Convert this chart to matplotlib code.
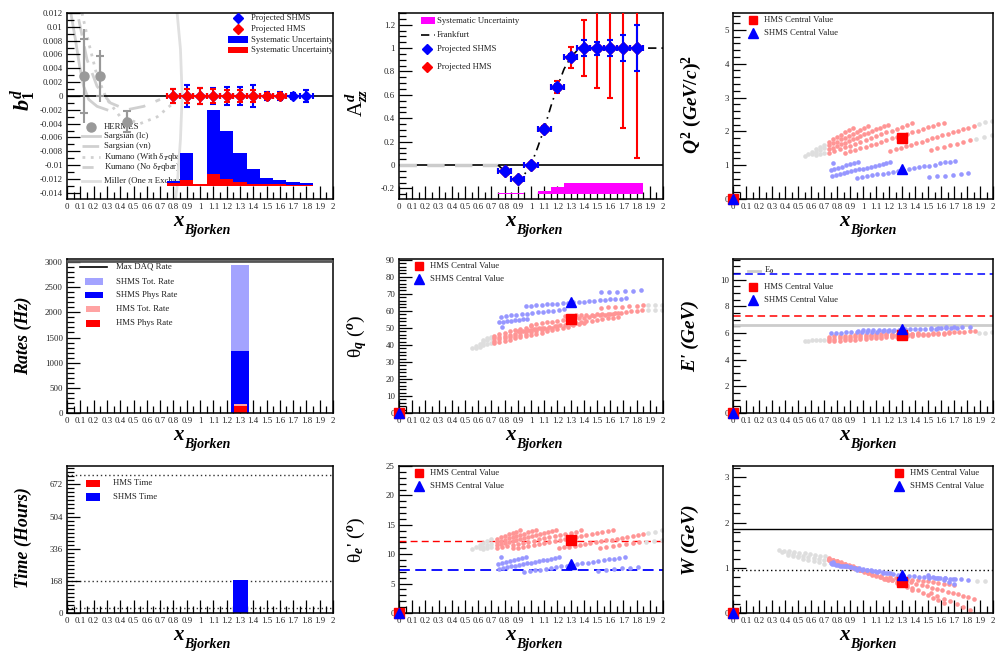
import numpy as np
import matplotlib
matplotlib.use("Agg")
from matplotlib import pyplot as plt
from matplotlib.patches import Rectangle
from matplotlib.ticker import MultipleLocator, FuncFormatter

plt.rcParams["font.family"] = ["Liberation Serif", "DejaVu Serif"]
plt.rcParams["mathtext.fontset"] = "custom"
plt.rcParams["mathtext.rm"] = "Liberation Serif:bold"
plt.rcParams["mathtext.it"] = "Liberation Serif:italic:bold"
plt.rcParams["mathtext.bf"] = "Liberation Serif:bold"

# ---------------- b1 panel data ----------------
HERMES_X = [0.128, 0.248, 0.452]
HERMES_Y = [0.0029, 0.0029, -0.0037]
HERMES_STAT = [0.0054, 0.0029, 0.0015]
HERMES_TOT = [0.0068, 0.0037, 0.0017]

SARG_LC_X = [0.03, 0.063, 0.095, 0.125, 0.163, 0.226, 0.30]
SARG_LC_Y = [0.0119, 0.0082, 0.0043, 0.0014, -0.0005, -0.0015, -0.002]
SARG_VN_X = [0.088, 0.15, 0.226, 0.326, 0.45, 0.577, 0.70]
SARG_VN_Y = [0.0111, 0.0053, 0.0014, -0.001, -0.002, -0.0015, -0.0005]
KUM_WITH_X = [0.113, 0.163, 0.226, 0.30, 0.40, 0.55, 0.68, 0.80]
KUM_WITH_Y = [0.012, 0.0077, 0.0029, -0.0005, -0.003, -0.004, -0.003, -0.001]
MILLER_X = [0.828, 0.853, 0.866, 0.853, 0.828, 0.816]
MILLER_Y = [0.012, 0.0068, 0.0, -0.0063, -0.0131, -0.0149]

B1_SHMS_X = [0.8, 0.9, 1.0, 1.1, 1.2, 1.3, 1.4, 1.5, 1.6, 1.7, 1.8]
B1_SHMS_ERR = [0.0010, 0.0016, 0.0012, 0.0012, 0.0013, 0.0013, 0.0016, 0.0006, 0.0006, 0.0005, 0.0009]
B1_HMS_X = [0.8, 0.9, 1.0, 1.1, 1.2, 1.3, 1.4, 1.5, 1.6]
B1_HMS_ERR = [0.0010, 0.0010, 0.0011, 0.0010, 0.0009, 0.0008, 0.0008, 0.0005, 0.0004]

SYS_X = [0.8, 0.9, 1.0, 1.1, 1.2, 1.3, 1.4, 1.5, 1.6, 1.7, 1.8]
B1_SYS_BASE = -0.013
B1_SYS_SHMS = [-0.0123, -0.0082, -0.0128, -0.0021, -0.0050, -0.0082, -0.0106, -0.0118, -0.0122, -0.0125, -0.0126]
B1_SYS_HMS = [-0.0126, -0.0122, -0.0128, -0.0113, -0.0120, -0.0125, -0.0127, -0.0128, -0.0128, -0.0129, -0.0129]

# ---------------- Azz panel data ----------------
AZZ_X = [0.8, 0.9, 1.0, 1.1, 1.2, 1.3, 1.4, 1.5, 1.6, 1.7, 1.8]
AZZ_Y = [-0.05, -0.12, 0.0, 0.31, 0.67, 0.92, 1.0, 1.0, 1.0, 1.0, 1.0]
AZZ_SHMS_ERR = [0.015, 0.015, 0.015, 0.015, 0.025, 0.03, 0.065, 0.055, 0.065, 0.11, 0.2]
AZZ_HMS_ERR = [0.02, 0.02, 0.02, 0.02, 0.05, 0.09, 0.24, 0.34, 0.43, 0.68, 0.94]
FRANK_X = [0.75, 0.8, 0.85, 0.9, 0.95, 1.0, 1.05, 1.1, 1.15, 1.2, 1.25, 1.3, 1.35, 1.4, 2.0]
FRANK_Y = [0.0, -0.05, -0.1, -0.12, -0.08, 0.0, 0.15, 0.31, 0.5, 0.67, 0.82, 0.92, 0.98, 1.0, 1.0]
FRANK_LOW_X = [0.0, 0.75]
FRANK_LOW_Y = [0.0, 0.0]
AZZ_SYS_BASE = -0.25
AZZ_SYS_TOP = [-0.240, -0.237, -0.25, -0.22, -0.186, -0.157, -0.149, -0.149, -0.149, -0.149, -0.149]

# ---------------- kinematic bins (shared x for Q2, theta_e, W) ----------------
KIN_HMS_X = [
    0.74, 0.77, 0.80, 0.83, 0.86, 0.89, 0.92,
    0.74, 0.77, 0.80, 0.83, 0.86, 0.89, 0.92, 0.95, 0.98, 1.01, 1.04,
    0.74, 0.77, 0.80, 0.83, 0.86, 0.89, 0.92, 0.95, 0.98, 1.01, 1.04, 1.07, 1.10, 1.13, 1.16, 1.19,
    0.74, 0.78, 0.82, 0.86, 0.90, 0.94, 0.98, 1.02, 1.06, 1.10, 1.14, 1.18, 1.22, 1.26, 1.30, 1.34, 1.38,
    0.86, 0.90, 0.94, 0.98, 1.02, 1.06, 1.10, 1.14, 1.18, 1.22, 1.26, 1.30, 1.34, 1.38, 1.42, 1.46, 1.50, 1.54, 1.58, 1.62,
    1.21, 1.25, 1.29, 1.33, 1.37, 1.41, 1.45, 1.49, 1.53, 1.57, 1.61, 1.65, 1.69, 1.73, 1.77, 1.81, 1.85,
    1.52, 1.57, 1.62, 1.67, 1.72, 1.77, 1.82,
]
KIN_SHMS_X = [
    0.77,
    0.75, 0.78, 0.81, 0.84, 0.87, 0.90, 0.93, 0.96,
    0.76, 0.79, 0.82, 0.85, 0.88, 0.91, 0.94, 0.97, 1.00, 1.03, 1.06, 1.09, 1.12, 1.15, 1.18, 1.21,
    0.95, 0.99, 1.03, 1.07, 1.11, 1.15, 1.19, 1.23, 1.27, 1.31, 1.35, 1.39, 1.43, 1.47, 1.51, 1.55, 1.59, 1.63, 1.67, 1.71,
    1.51, 1.57, 1.63, 1.69, 1.75, 1.81,
]

Q2_HMS_Y = [
    1.70, 1.77, 1.83, 1.90, 1.97, 2.03, 2.10,
    1.59, 1.65, 1.70, 1.76, 1.81, 1.87, 1.93, 1.98, 2.04, 2.09, 2.15,
    1.47, 1.52, 1.57, 1.62, 1.66, 1.71, 1.76, 1.81, 1.86, 1.91, 1.96, 2.01, 2.06, 2.10, 2.15, 2.20,
    1.36, 1.42, 1.47, 1.53, 1.58, 1.64, 1.69, 1.75, 1.80, 1.86, 1.91, 1.97, 2.02, 2.08, 2.13, 2.19, 2.24,
    1.36, 1.41, 1.45, 1.50, 1.55, 1.60, 1.64, 1.69, 1.74, 1.79, 1.83, 1.88, 1.93, 1.98, 2.02, 2.07, 2.12, 2.17, 2.21, 2.26,
    1.42, 1.47, 1.51, 1.56, 1.61, 1.65, 1.70, 1.74, 1.79, 1.84, 1.88, 1.93, 1.98, 2.02, 2.07, 2.11, 2.16,
    1.45, 1.50, 1.55, 1.60, 1.64, 1.69, 1.74,
]
Q2_SHMS_Y = [
    1.06,
    0.86, 0.89, 0.93, 0.96, 1.00, 1.03, 1.07, 1.10,
    0.69, 0.72, 0.74, 0.77, 0.80, 0.82, 0.85, 0.88, 0.90, 0.93, 0.96, 0.98, 1.01, 1.04, 1.06, 1.09,
    0.62, 0.65, 0.67, 0.70, 0.73, 0.75, 0.78, 0.81, 0.83, 0.86, 0.89, 0.91, 0.94, 0.97, 0.99, 1.02, 1.05, 1.08, 1.10, 1.13,
    0.64, 0.67, 0.69, 0.72, 0.74, 0.77,
]
Q2_GRAY_X = [0.55, 0.58, 0.61, 0.64, 0.67, 0.70, 0.61, 0.64, 0.67, 0.70, 0.64, 0.67, 0.70,
             1.89, 1.94, 1.99, 1.87, 1.93, 1.99]
Q2_GRAY_Y = [1.27, 1.34, 1.40, 1.47, 1.53, 1.60, 1.33, 1.38, 1.44, 1.50, 1.30, 1.33, 1.37,
             2.21, 2.27, 2.32, 1.78, 1.83, 1.88]

THE_HMS_Y = [
    12.67, 12.91, 13.15, 13.38, 13.62, 13.86, 14.10,
    12.1, 12.3, 12.5, 12.7, 12.9, 13.1, 13.3, 13.5, 13.7, 13.9, 14.1,
    11.53, 11.70, 11.87, 12.04, 12.21, 12.39, 12.56, 12.73, 12.90, 13.07, 13.24, 13.41, 13.59, 13.76, 13.93, 14.10,
    10.97, 11.16, 11.36, 11.55, 11.74, 11.93, 12.13, 12.32, 12.51, 12.70, 12.90, 13.09, 13.28, 13.47, 13.67, 13.86, 14.05,
    10.97, 11.13, 11.30, 11.46, 11.63, 11.79, 11.96, 12.12, 12.29, 12.45, 12.62, 12.78, 12.95, 13.11, 13.28, 13.44, 13.61, 13.77, 13.94, 14.10,
    11.00, 11.15, 11.30, 11.45, 11.60, 11.75, 11.90, 12.05, 12.20, 12.35, 12.50, 12.65, 12.80, 12.95, 13.10, 13.25, 13.40,
    10.97, 11.14, 11.31, 11.49, 11.66, 11.83, 12.00,
]
THE_SHMS_Y = [
    9.55,
    8.41, 8.56, 8.71, 8.86, 9.00, 9.15, 9.30, 9.45,
    7.56, 7.69, 7.81, 7.94, 8.06, 8.19, 8.32, 8.44, 8.57, 8.70, 8.82, 8.95, 9.07, 9.20, 9.32, 9.45,
    6.99, 7.12, 7.25, 7.39, 7.52, 7.65, 7.78, 7.91, 8.05, 8.18, 8.31, 8.44, 8.57, 8.71, 8.84, 8.97, 9.10, 9.23, 9.37, 9.50,
    7.16, 7.30, 7.43, 7.57, 7.70, 7.84,
]
THE_GRAY_X = [0.55, 0.58, 0.61, 0.64, 0.67, 0.70, 0.61, 0.64, 0.67, 0.70, 0.64, 0.67, 0.70,
              1.89, 1.94, 1.99, 1.87, 1.93, 1.99]
THE_GRAY_Y = [10.90, 11.23, 11.57, 11.90, 12.23, 12.57, 11.0, 11.25, 11.5, 11.75, 10.9, 11.05, 11.2,
              13.55, 13.80, 14.05, 12.15, 12.30, 12.45]

W_HMS_Y = [
    1.22, 1.18, 1.15, 1.12, 1.09, 1.06, 1.03,
    1.20, 1.17, 1.14, 1.11, 1.08, 1.05, 1.02, 0.99, 0.95, 0.92, 0.89,
    1.18, 1.15, 1.12, 1.09, 1.06, 1.03, 1.00, 0.97, 0.94, 0.91, 0.88, 0.85, 0.82, 0.79, 0.76, 0.73,
    1.17, 1.13, 1.10, 1.06, 1.03, 0.99, 0.96, 0.92, 0.88, 0.84, 0.80, 0.76, 0.72, 0.67, 0.62, 0.57, 0.51,
    1.05, 1.02, 0.99, 0.96, 0.92, 0.88, 0.85, 0.81, 0.77, 0.73, 0.69, 0.66, 0.61, 0.56, 0.50, 0.45, 0.39, 0.34, 0.28, 0.22,
    0.80, 0.77, 0.74, 0.71, 0.68, 0.65, 0.62, 0.59, 0.56, 0.53, 0.50, 0.47, 0.44, 0.41, 0.38, 0.35, 0.32,
    0.44, 0.38, 0.32, 0.26, 0.20, 0.13, 0.06,
]
W_HMS_EXTRA_X = [1.34, 1.38, 1.42, 1.46, 1.50, 1.54, 1.58, 1.62, 1.66, 1.70]
W_HMS_EXTRA_Y = [0.76, 0.74, 0.73, 0.71, 0.70, 0.68, 0.67, 0.65, 0.64, 0.62]
W_SHMS_Y = [
    1.12,
    1.11, 1.09, 1.07, 1.05, 1.04, 1.02, 1.00, 0.98,
    1.08, 1.07, 1.05, 1.04, 1.03, 1.01, 1.00, 0.99, 0.97, 0.96, 0.95, 0.93, 0.92, 0.91, 0.89, 0.88,
    0.96, 0.95, 0.94, 0.92, 0.91, 0.89, 0.88, 0.86, 0.85, 0.84, 0.82, 0.81, 0.80, 0.79, 0.78, 0.78, 0.77, 0.77, 0.76, 0.76,
    0.79, 0.78, 0.77, 0.76, 0.75, 0.74,
]
W_SHMS_EXTRA_X = [1.50, 1.54, 1.58, 1.62, 1.66, 1.70]
W_SHMS_EXTRA_Y = [0.84, 0.80, 0.77, 0.73, 0.69, 0.65]
W_GRAY_X = [0.35, 0.39, 0.43, 0.47, 0.51, 0.55, 0.59, 0.63, 0.67, 0.71,
            0.38, 0.42, 0.46, 0.50, 0.54, 0.58, 0.62, 0.66, 0.70,
            0.42, 0.46, 0.50, 0.54, 0.58, 0.62, 0.66, 0.70,
            1.88, 1.94]
W_GRAY_Y = [1.40, 1.38, 1.37, 1.35, 1.33, 1.32, 1.30, 1.28, 1.27, 1.25,
            1.34, 1.32, 1.30, 1.27, 1.25, 1.23, 1.21, 1.19, 1.17,
            1.28, 1.26, 1.23, 1.20, 1.17, 1.14, 1.12, 1.09,
            0.71, 0.70]

# ---------------- theta_q panel ----------------
TQ_HMS_X = [
    0.72, 0.76, 0.80, 0.84, 0.88, 0.92, 0.96, 1.00,
    0.72, 0.76, 0.80, 0.84, 0.88, 0.92, 0.96, 1.00, 1.04, 1.08,
    0.72, 0.76, 0.80, 0.84, 0.88, 0.92, 0.96, 1.00, 1.04, 1.08, 1.12, 1.16, 1.20,
    0.72, 0.76, 0.80, 0.84, 0.88, 0.92, 0.96, 1.00, 1.04, 1.08, 1.12, 1.16, 1.20, 1.24, 1.28, 1.32, 1.36, 1.40,
    0.90, 0.94, 0.98, 1.02, 1.06, 1.10, 1.14, 1.18, 1.22, 1.26, 1.30, 1.34, 1.38, 1.42, 1.46, 1.50, 1.54, 1.58, 1.62, 1.66,
    1.00, 1.04, 1.08, 1.12, 1.16, 1.20, 1.24, 1.28, 1.32, 1.36, 1.40, 1.44, 1.48, 1.52, 1.56, 1.60, 1.64, 1.68, 1.72, 1.76, 1.80, 1.84,
    1.26, 1.30, 1.34, 1.38, 1.42, 1.46, 1.50, 1.54, 1.58, 1.62, 1.66,
    1.53, 1.58, 1.64, 1.69, 1.74, 1.80, 1.85,
]
TQ_HMS_Y = [
    45.5, 46.3, 47.1, 47.9, 48.6, 49.4, 50.2, 51.0,
    44.0, 44.7, 45.4, 46.1, 46.7, 47.4, 48.1, 48.8, 49.5, 50.2,
    42.5, 43.2, 43.9, 44.6, 45.3, 46.0, 46.7, 47.4, 48.1, 48.8, 49.5, 50.2, 50.9,
    41.0, 41.7, 42.4, 43.1, 43.8, 44.5, 45.2, 45.9, 46.6, 47.3, 48.0, 48.7, 49.4, 50.1, 50.8, 51.5, 52.2, 52.9,
    48.0, 48.4, 48.9, 49.3, 49.8, 50.2, 50.7, 51.1, 51.6, 52.0, 52.5, 52.9, 53.4, 53.8, 54.3, 54.7, 55.2, 55.6, 56.1, 56.5,
    52.0, 52.4, 52.8, 53.2, 53.6, 54.0, 54.4, 54.8, 55.2, 55.6, 56.1, 56.5, 56.9, 57.3, 57.7, 58.1, 58.5, 58.9, 59.3, 59.7, 60.1, 60.5,
    57.0, 57.2, 57.3, 57.5, 57.6, 57.8, 57.9, 58.1, 58.2, 58.4, 58.5,
    61.8, 62.0, 62.3, 62.5, 62.8, 63.0, 63.3,
]
TQ_SHMS_X = [
    0.78,
    0.77, 0.81, 0.85, 0.89, 0.93, 0.97, 1.01, 1.05, 1.09, 1.13, 1.17, 1.21, 1.25,
    0.76, 0.79, 0.82, 0.85, 0.88, 0.91, 0.94, 0.97,
    0.96, 1.00, 1.04, 1.08, 1.12, 1.16, 1.20, 1.24, 1.28, 1.32, 1.36, 1.40, 1.44, 1.48, 1.52, 1.56, 1.60, 1.64, 1.68, 1.72,
    1.53, 1.59, 1.65, 1.71, 1.77, 1.83,
]
TQ_SHMS_Y = [
    50.3,
    56.6, 57.0, 57.3, 57.7, 58.0, 58.4, 58.8, 59.1, 59.5, 59.8, 60.2, 60.5, 60.9,
    53.2, 53.5, 53.9, 54.2, 54.5, 54.9, 55.2, 55.5,
    62.9, 63.1, 63.4, 63.6, 63.8, 64.1, 64.3, 64.6, 64.8, 65.0, 65.3, 65.5, 65.7, 66.0, 66.2, 66.5, 66.7, 66.9, 67.2, 67.4,
    70.9, 71.1, 71.4, 71.6, 71.9, 72.1,
]
TQ_GRAY_X = [0.55, 0.58, 0.61, 0.64, 0.67, 0.70, 0.58, 0.61, 0.64, 0.67, 0.70, 0.64, 0.67, 0.70,
             1.89, 1.94, 1.99, 1.89, 1.94, 1.99]
TQ_GRAY_Y = [38.0, 39.2, 40.4, 41.6, 42.8, 44.0, 38.2, 39.0, 39.8, 40.6, 41.4, 43.0, 43.8, 44.6,
             63.6, 63.6, 63.6, 60.6, 60.6, 60.6]

# ---------------- E' panel ----------------
EP_HMS_X = [
    0.74, 0.78, 0.82, 0.86, 0.90, 0.94, 0.98, 1.02, 1.06, 1.10, 1.14, 1.18, 1.22,
    0.74, 0.78, 0.82, 0.86, 0.90, 0.94, 0.98, 1.02, 1.06, 1.10, 1.14, 1.18, 1.22, 1.26, 1.30, 1.34, 1.38, 1.42,
    0.74, 0.78, 0.82, 0.86, 0.90, 0.94, 0.98, 1.02, 1.06, 1.10, 1.14, 1.18, 1.22, 1.26, 1.30, 1.34, 1.38, 1.42, 1.46, 1.50, 1.54, 1.58, 1.62, 1.66,
    1.22, 1.26, 1.30, 1.34, 1.38, 1.42, 1.46, 1.50, 1.54, 1.58, 1.62, 1.66, 1.70, 1.74, 1.78, 1.82, 1.86,
]
EP_HMS_Y = [
    5.72, 5.74, 5.76, 5.78, 5.80, 5.82, 5.84, 5.85, 5.87, 5.89, 5.91, 5.93, 5.95,
    5.55, 5.57, 5.60, 5.62, 5.65, 5.67, 5.70, 5.72, 5.75, 5.77, 5.80, 5.82, 5.85, 5.87, 5.90, 5.92, 5.95, 5.97,
    5.38, 5.41, 5.43, 5.46, 5.48, 5.51, 5.54, 5.56, 5.59, 5.61, 5.64, 5.67, 5.69, 5.72, 5.74, 5.77, 5.80, 5.82, 5.85, 5.87, 5.90, 5.93, 5.95, 5.98,
    5.80, 5.82, 5.84, 5.87, 5.89, 5.91, 5.93, 5.95, 5.98, 6.00, 6.02, 6.04, 6.06, 6.08, 6.11, 6.13, 6.15,
]
EP_SHMS_X = [
    0.75, 0.79, 0.83, 0.87, 0.91, 0.95, 0.99, 1.03, 1.07, 1.11, 1.15, 1.19, 1.23,
    0.96, 1.00, 1.04, 1.08, 1.12, 1.16, 1.20, 1.24, 1.28, 1.32, 1.36, 1.40, 1.44, 1.48, 1.52, 1.56, 1.60, 1.64, 1.68, 1.72,
    1.52, 1.58, 1.64, 1.70, 1.76, 1.82,
]
EP_SHMS_Y = [
    6.00, 6.01, 6.03, 6.04, 6.05, 6.06, 6.08, 6.09, 6.10, 6.11, 6.13, 6.14, 6.15,
    6.18, 6.19, 6.20, 6.21, 6.22, 6.23, 6.24, 6.25, 6.26, 6.27, 6.28, 6.29, 6.30, 6.31, 6.32, 6.33, 6.34, 6.35, 6.36, 6.38,
    6.40, 6.41, 6.42, 6.43, 6.44, 6.45,
]
EP_GRAY_X = [0.55, 0.58, 0.61, 0.64, 0.67, 0.70, 1.89, 1.94, 1.99]
EP_GRAY_Y = [5.40, 5.42, 5.44, 5.46, 5.48, 5.50, 6.02, 6.03, 6.04]
E0_LINE = 6.6
EP_HMS_CUT = 7.31
EP_SHMS_CUT = 10.45

# central values (x, HMS, SHMS) per panel
CENTRAL_X = 1.3
Q2_CENTRAL = (1.80, 0.90)
TQ_CENTRAL = (55.2, 65.5)
EP_CENTRAL = (5.85, 6.30)
THE_CENTRAL = (12.4, 8.4)
W_CENTRAL = (0.69, 0.84)
THE_HMS_LINE = 12.27
THE_SHMS_LINE = 7.27
W_LINE = 1.85
W_PROTON = 0.945

# rates & time
RATE_SHMS_EDGE = (1.235, 0.135)
RATE_HMS_EDGE = (1.255, 0.10)
SHMS_TOT_RATE = 2940
SHMS_PHYS_RATE = 1240
HMS_TOT_RATE = 185
HMS_PHYS_RATE = 140
MAX_DAQ = 3030
TIME_EDGE = (1.25, 0.11)
SHMS_TIME = 170
TIME_LINES = [24, 168, 720]

# ---------------- drawing ----------------
W_PX, H_PX = 1000, 666
fig = plt.figure(figsize=(10, 6.66), dpi=100)

RED_DOT = "#ff9595"
BLUE_DOT = "#9797ff"
GRAY_DOT = "#dedede"
DOT_S = 11


def fp(px, py):
    return px / W_PX, 1 - py / H_PX


def fmt(v, pos):
    v = round(v, 6) + 0.0
    return f"{v:g}"


def panel(box, ylim, major, minor):
    l, t, r, b = box
    ax = fig.add_axes([l / W_PX, 1 - b / H_PX, (r - l) / W_PX, (b - t) / H_PX])
    ax.set_xlim(0, 2)
    ax.set_ylim(*ylim)
    ax.xaxis.set_major_locator(MultipleLocator(0.1))
    ax.xaxis.set_minor_locator(MultipleLocator(0.05))
    ax.yaxis.set_major_locator(MultipleLocator(major))
    ax.yaxis.set_minor_locator(MultipleLocator(minor))
    ax.xaxis.set_major_formatter(FuncFormatter(fmt))
    ax.yaxis.set_major_formatter(FuncFormatter(fmt))
    ax.tick_params(which="both", direction="in", top=False, right=False,
                   width=0.9, labelsize=6.3, labelcolor="#222222")
    ax.tick_params(which="major", length=9.4, pad=3)
    ax.tick_params(which="minor", length=4.7)
    for s in ax.spines.values():
        s.set_linewidth(1.1)
    return ax


def titles(box, ylabel, ypos, size=13, weight="bold", style="italic"):
    l, t, r, b = box
    fig.text(*fp(l + 106, b + 27), "x", fontsize=15, fontweight="bold", style="italic",
             ha="left", va="baseline")
    fig.text(*fp(l + 117, b + 35), "Bjorken", fontsize=10, fontweight="bold", style="italic",
             ha="left", va="baseline")
    fig.text(*fp(*ypos), ylabel, rotation=90, ha="center", va="center",
             fontsize=size, fontweight=weight, style=style)


def leg_mark(ax, px, py, marker, color, ms):
    x, y = fp(px, py)
    ax.plot([x], [y], marker=marker, color=color, ms=ms, ls="none",
            transform=fig.transFigure, clip_on=False, zorder=6)


def leg_line(ax, px0, px1, py, z=6, **kw):
    x0, y = fp(px0, py)
    x1, _ = fp(px1, py)
    ax.plot([x0, x1], [y, y], transform=fig.transFigure, clip_on=False, zorder=z, **kw)


def leg_box(ax, px0, py0, px1, py1, color):
    x0, y0 = fp(px0, py1)
    ax.add_patch(Rectangle((x0, y0), (px1 - px0) / W_PX, (py1 - py0) / H_PX, color=color,
                           transform=fig.transFigure, clip_on=False, zorder=6, lw=0))


def leg_text(ax, px, py, s, z=6):
    ax.text(*fp(px, py), s, transform=fig.transFigure, fontsize=6.3, va="center",
            ha="left", zorder=z, color="#222222")


def scatter_panel(ax, gx, gy, hx, hy, sx, sy, central):
    ax.scatter(gx, gy, s=DOT_S, color=GRAY_DOT, lw=0, zorder=2)
    ax.scatter(hx, hy, s=DOT_S, color=RED_DOT, lw=0, zorder=2.2)
    ax.scatter(sx, sy, s=DOT_S, color=BLUE_DOT, lw=0, zorder=2.4)
    ax.plot([CENTRAL_X], [central[0]], "s", color="red", ms=6.5, zorder=5)
    ax.plot([CENTRAL_X], [central[1]], "^", color="blue", ms=7, zorder=5)
    ax.plot([0], [0], "s", color="red", ms=6.5, zorder=5, clip_on=False)
    ax.plot([0], [0], "^", color="blue", ms=6.5, zorder=5.1, clip_on=False)


def central_legend(ax, hx, y0, y1):
    leg_mark(ax, hx, y0, "s", "red", 6)
    leg_text(ax, hx + 11, y0, "HMS Central Value")
    leg_mark(ax, hx, y1, "^", "blue", 6.5)
    leg_text(ax, hx + 11, y1, "SHMS Central Value")


# ----- panel 1: b1 -----
box1 = (67, 13, 333, 199)
ax = panel(box1, (-0.0149, 0.012), 0.002, 0.001)
ax.plot(SARG_LC_X, SARG_LC_Y, color="#d0d0d0", lw=2, zorder=1.5)
ax.plot(SARG_VN_X, SARG_VN_Y, color="#d0d0d0", lw=2, ls=(0, (6, 4)), zorder=1.5)
ax.plot(KUM_WITH_X, KUM_WITH_Y, color="#d0d0d0", lw=2, ls=(0, (1, 2)), zorder=1.5)
ax.plot(MILLER_X, MILLER_Y, color="#e0e0e0", lw=2, zorder=1.5)
ax.bar(SYS_X, np.array(B1_SYS_SHMS) - B1_SYS_BASE, bottom=B1_SYS_BASE, width=0.1,
       color="blue", lw=0, zorder=2)
ax.bar(SYS_X, np.array(B1_SYS_HMS) - B1_SYS_BASE, bottom=B1_SYS_BASE, width=0.1,
       color="red", lw=0, zorder=2.1)
ax.axhline(0, color="black", lw=1.2, zorder=2.3)
ax.errorbar(HERMES_X, HERMES_Y, yerr=HERMES_TOT, fmt="none", ecolor="#999999", elinewidth=1.5, zorder=3)
ax.errorbar(HERMES_X, HERMES_Y, yerr=HERMES_STAT, fmt="o", color="#999999", ms=6.5,
            elinewidth=1.5, capsize=3, capthick=1.5, zorder=3)
ax.errorbar(B1_SHMS_X, np.zeros(len(B1_SHMS_X)), xerr=0.05, yerr=B1_SHMS_ERR, fmt="D", color="blue",
            ms=5, elinewidth=1.5, capsize=2, capthick=1.5, zorder=4)
ax.errorbar(B1_HMS_X, np.zeros(len(B1_HMS_X)), xerr=0.05, yerr=B1_HMS_ERR, fmt="D", color="red",
            ms=5, elinewidth=1.5, capsize=2, capthick=1.5, zorder=4.5)
leg_mark(ax, 238, 18, "D", "blue", 5)
leg_text(ax, 251, 18, "Projected SHMS")
leg_mark(ax, 238, 29, "D", "red", 5)
leg_text(ax, 251, 29, "Projected HMS")
leg_box(ax, 228, 36, 248, 43, "blue")
leg_text(ax, 251, 40, "Systematic Uncertainty")
leg_box(ax, 228, 47, 248, 53, "red")
leg_text(ax, 251, 50, "Systematic Uncertainty")
leg_mark(ax, 91, 127, "o", "#999999", 6.5)
leg_text(ax, 104, 127, "HERMES", z=1)
leg_line(ax, 82, 100, 136, z=1, color="#d0d0d0", lw=2)
leg_text(ax, 104, 136, "Sargsian (lc)", z=1)
leg_line(ax, 82, 100, 146, z=1, color="#d0d0d0", lw=2, ls=(0, (6, 4)))
leg_text(ax, 104, 146, "Sargsian (vn)", z=1)
leg_line(ax, 82, 100, 157, z=1, color="#d0d0d0", lw=2, ls=(0, (1, 2)))
leg_text(ax, 104, 157, "Kumano (With δ$_{T}$qbar)", z=1)
leg_line(ax, 82, 100, 167, z=1, color="#d0d0d0", lw=2, ls=(0, (4, 3)))
leg_text(ax, 104, 167, "Kumano (No δ$_{T}$qbar)", z=1)
leg_line(ax, 82, 100, 181, z=1, color="#e0e0e0", lw=2)
leg_text(ax, 104, 181, "Miller (One π Exchange)", z=1)
titles(box1, r"$b_{1}^{d}$", (24, 100), size=16)

# ----- panel 2: Azz -----
box2 = (399, 13, 663, 199)
ax = panel(box2, (-0.29, 1.3), 0.2, 0.05)
ax.bar(SYS_X, np.array(AZZ_SYS_TOP) - AZZ_SYS_BASE, bottom=AZZ_SYS_BASE, width=0.1,
       color="magenta", lw=0, zorder=2)
ax.axhline(0, color="black", lw=1.2, zorder=2.2)
ax.plot(FRANK_LOW_X, FRANK_LOW_Y, color="#cccccc", lw=2.5, ls=(0, (5, 3)), zorder=2.3)
ax.plot(FRANK_X, FRANK_Y, color="black", lw=1.2, ls=(0, (5, 3, 1, 3)), zorder=2.4)
ax.errorbar(AZZ_X, AZZ_Y, yerr=AZZ_HMS_ERR, xerr=0.05, fmt="D", color="red", ms=6,
            elinewidth=1.5, capsize=2.5, capthick=1.5, zorder=3)
ax.errorbar(AZZ_X, AZZ_Y, yerr=AZZ_SHMS_ERR, xerr=0.05, fmt="D", color="blue", ms=6,
            elinewidth=1.5, capsize=2.5, capthick=1.5, zorder=4)
leg_box(ax, 421, 17, 435, 24, "magenta")
leg_text(ax, 437, 21, "Systematic Uncertainty")
leg_line(ax, 421, 435, 35, color="black", lw=1.2, ls=(0, (5, 3, 1, 3)))
leg_text(ax, 437, 35, "Frankfurt")
leg_mark(ax, 427, 49, "D", "blue", 5)
leg_text(ax, 437, 49, "Projected SHMS")
leg_mark(ax, 427, 67, "D", "red", 5)
leg_text(ax, 437, 67, "Projected HMS")
titles(box2, r"A$_{zz}^{d}$", (357, 103), size=15, weight="normal", style="normal")

# ----- panel 3: Q2 -----
box3 = (733, 13, 993, 199)
ax = panel(box3, (0, 5.5), 1, 0.2)
scatter_panel(ax, Q2_GRAY_X, Q2_GRAY_Y, KIN_HMS_X, Q2_HMS_Y, KIN_SHMS_X, Q2_SHMS_Y, Q2_CENTRAL)
central_legend(ax, 753, 20, 33)
titles(box3, r"$Q^{2}\ (GeV/c)^{2}$", (692, 105), size=14)

# ----- panel 4: rates -----
box4 = (67, 259, 333, 413)
ax = panel(box4, (0, 3060), 500, 100)
ax.bar(RATE_SHMS_EDGE[0], SHMS_TOT_RATE, width=RATE_SHMS_EDGE[1], align="edge", color="#a3a3ff", lw=0, zorder=2)
ax.bar(RATE_SHMS_EDGE[0], SHMS_PHYS_RATE, width=RATE_SHMS_EDGE[1], align="edge", color="blue", lw=0, zorder=2.1)
ax.bar(RATE_HMS_EDGE[0], HMS_TOT_RATE, width=RATE_HMS_EDGE[1], align="edge", color="#ffa3a3", lw=0, zorder=2.2)
ax.bar(RATE_HMS_EDGE[0], HMS_PHYS_RATE, width=RATE_HMS_EDGE[1], align="edge", color="red", lw=0, zorder=2.3)
ax.axhline(MAX_DAQ, color="#555555", lw=2, zorder=3)
leg_line(ax, 80, 107, 267, color="black", lw=1.2)
leg_text(ax, 116, 267, "Max DAQ Rate")
leg_box(ax, 85, 278, 103, 285, "#a3a3ff")
leg_text(ax, 116, 282, "SHMS Tot. Rate")
leg_box(ax, 85, 292, 103, 298, "blue")
leg_text(ax, 116, 295, "SHMS Phys Rate")
leg_box(ax, 86, 306, 100, 312, "#ffa3a3")
leg_text(ax, 116, 309, "HMS Tot. Rate")
leg_box(ax, 86, 320, 100, 327, "red")
leg_text(ax, 116, 323, "HMS Phys Rate")
titles(box4, "Rates (Hz)", (23, 336))

# ----- panel 5: theta_q -----
box5 = (399, 259, 663, 413)
ax = panel(box5, (0, 90.5), 10, 2)
scatter_panel(ax, TQ_GRAY_X, TQ_GRAY_Y, TQ_HMS_X, TQ_HMS_Y, TQ_SHMS_X, TQ_SHMS_Y, TQ_CENTRAL)
central_legend(ax, 419, 266, 279)
titles(box5, "θ$_{q}$ ($^{o}$)", (357, 336), size=14, weight="normal", style="normal")

# ----- panel 6: E' -----
box6 = (733, 259, 993, 413)
ax = panel(box6, (0, 11.55), 2, 0.5)
ax.axhline(EP_SHMS_CUT, color="blue", lw=1.1, ls=(0, (5, 3)), zorder=1.8)
ax.axhline(EP_HMS_CUT, color="red", lw=1.1, ls=(0, (5, 3)), zorder=1.8)
ax.axhline(E0_LINE, color="#cccccc", lw=2, zorder=1.8)
scatter_panel(ax, EP_GRAY_X, EP_GRAY_Y, EP_HMS_X, EP_HMS_Y, EP_SHMS_X, EP_SHMS_Y, EP_CENTRAL)
leg_line(ax, 748, 760, 271, color="#cccccc", lw=2)
leg_text(ax, 764, 270, "E$_{0}$")
central_legend(ax, 753, 287, 300)
titles(box6, "E' (GeV)", (690, 336), size=14)

# ----- panel 7: time -----
box7 = (67, 466, 333, 613)
ax = panel(box7, (0, 768), 168, 21)
for t in TIME_LINES:
    ax.axhline(t, color="#333333", lw=1, ls=(0, (1, 2)), zorder=1.5)
ax.bar(TIME_EDGE[0], SHMS_TIME, width=TIME_EDGE[1], align="edge", color="blue", lw=0, zorder=2)
leg_box(ax, 86, 480, 100, 487, "red")
leg_text(ax, 113, 483, "HMS Time")
leg_box(ax, 86, 493, 100, 501, "blue")
leg_text(ax, 113, 497, "SHMS Time")
titles(box7, "Time (Hours)", (23, 538))

# ----- panel 8: theta_e -----
box8 = (399, 466, 663, 613)
ax = panel(box8, (0, 25), 5, 1)
ax.axhline(THE_HMS_LINE, color="red", lw=1, ls=(0, (5, 3)), zorder=1.8)
ax.axhline(THE_SHMS_LINE, color="blue", lw=1.3, ls=(0, (6, 3)), zorder=1.8)
scatter_panel(ax, THE_GRAY_X, THE_GRAY_Y, KIN_HMS_X, THE_HMS_Y, KIN_SHMS_X, THE_SHMS_Y, THE_CENTRAL)
central_legend(ax, 419, 473, 486)
titles(box8, "θ$_{e}$' ($^{o}$)", (356, 540), size=14, weight="normal", style="normal")

# ----- panel 9: W -----
box9 = (733, 466, 993, 613)
ax = panel(box9, (0, 3.25), 1, 0.2)
ax.axhline(W_LINE, color="black", lw=1, zorder=1.8)
ax.axhline(W_PROTON, color="black", lw=1, ls=(0, (1, 2)), zorder=1.8)
ax.scatter(W_HMS_EXTRA_X, W_HMS_EXTRA_Y, s=DOT_S, color=RED_DOT, lw=0, zorder=2.2)
ax.scatter(W_SHMS_EXTRA_X, W_SHMS_EXTRA_Y, s=DOT_S, color=BLUE_DOT, lw=0, zorder=2.4)
scatter_panel(ax, W_GRAY_X, W_GRAY_Y, KIN_HMS_X, W_HMS_Y, KIN_SHMS_X, W_SHMS_Y, W_CENTRAL)
central_legend(ax, 899, 473, 486)
titles(box9, "W (GeV)", (690, 540), size=14)

fig.savefig("out.png", dpi=100)
